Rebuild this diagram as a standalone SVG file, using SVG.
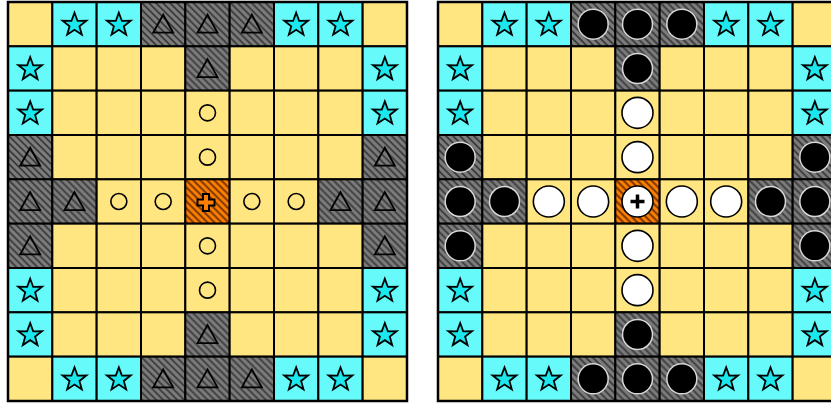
<svg xmlns="http://www.w3.org/2000/svg" xmlns:xlink="http://www.w3.org/1999/xlink" width="831" height="405" viewBox="0 0 831 405">
<style>
.y{fill:#ffe680;stroke:#000;stroke-width:2}
.c{fill:#66fafa;stroke:#000;stroke-width:2}
.g{fill:url(#hg);stroke:#000;stroke-width:2}
.o{fill:url(#ho);stroke:#000;stroke-width:2}
.star{fill:#1ae8ee;stroke:#000;stroke-width:1.8;stroke-linejoin:miter}
.tri{fill:none;stroke:#000;stroke-width:1.8}
.sc{fill:none;stroke:#000;stroke-width:1.6}
.crs{fill:#ff8000;stroke:#000;stroke-width:2}
.bc{fill:#000;stroke:#d8d8d8;stroke-width:1.5}
.wc{fill:#fff;stroke:#000;stroke-width:1.6}
.plus{stroke:#000;stroke-width:3.5;fill:none}
</style>
<defs>
<pattern id="hg" patternUnits="userSpaceOnUse" width="7" height="7">
<rect width="7" height="7" fill="#7c7c7c"/>
<path d="M0,0L7,7M-1,6L1,8M6,-1L8,1" stroke="#3a3a3a" stroke-width="1.8"/>
</pattern>
<pattern id="ho" patternUnits="userSpaceOnUse" width="7" height="7">
<rect width="7" height="7" fill="#ff8000"/>
<path d="M0,0L7,7M-1,6L1,8M6,-1L8,1" stroke="#6a2e00" stroke-width="1.8"/>
</pattern>
<rect id="cy" class="y" width="44.33" height="44.33"/>
<rect id="cc" class="c" width="44.33" height="44.33"/>
<rect id="cg" class="g" width="44.33" height="44.33"/>
<rect id="co" class="o" width="44.33" height="44.33"/>
<path id="st" class="star" d="M22.17,10.2L25.23,18.46L34.06,18.31L27.12,23.78L29.52,32.22L22.17,27.37L14.82,32.22L17.22,23.78L10.28,18.31L19.11,18.46Z" transform="translate(0,0.5)"/>
<path id="tr" class="tri" d="M22.17,12.7L12.17,30.7L32.17,30.7Z"/>
<circle id="smc" class="sc" cx="22.17" cy="22.17" r="8"/>
<circle id="blk" class="bc" cx="22.17" cy="22.17" r="15"/>
<circle id="wht" class="wc" cx="22.17" cy="22.17" r="15.5"/>
</defs>

<g id="board-left" transform="translate(8,2)">
<g id="left-row0">
<use href="#cy" x="0" y="0"/>
<use href="#cc" x="44.33" y="0"/><use href="#st" x="44.33" y="0"/>
<use href="#cc" x="88.67" y="0"/><use href="#st" x="88.67" y="0"/>
<use href="#cg" x="133" y="0"/><use href="#tr" x="133" y="0"/>
<use href="#cg" x="177.33" y="0"/><use href="#tr" x="177.33" y="0"/>
<use href="#cg" x="221.67" y="0"/><use href="#tr" x="221.67" y="0"/>
<use href="#cc" x="266" y="0"/><use href="#st" x="266" y="0"/>
<use href="#cc" x="310.33" y="0"/><use href="#st" x="310.33" y="0"/>
<use href="#cy" x="354.67" y="0"/>
</g>
<g id="left-row1">
<use href="#cc" x="0" y="44.33"/><use href="#st" x="0" y="44.33"/>
<use href="#cy" x="44.33" y="44.33"/><use href="#cy" x="88.67" y="44.33"/><use href="#cy" x="133" y="44.33"/>
<use href="#cg" x="177.33" y="44.33"/><use href="#tr" x="177.33" y="44.33"/>
<use href="#cy" x="221.67" y="44.33"/><use href="#cy" x="266" y="44.33"/><use href="#cy" x="310.33" y="44.33"/>
<use href="#cc" x="354.67" y="44.33"/><use href="#st" x="354.67" y="44.33"/>
</g>
<g id="left-row2">
<use href="#cc" x="0" y="88.67"/><use href="#st" x="0" y="88.67"/>
<use href="#cy" x="44.33" y="88.67"/><use href="#cy" x="88.67" y="88.67"/><use href="#cy" x="133" y="88.67"/>
<use href="#cy" x="177.33" y="88.67"/><use href="#smc" x="177.33" y="88.67"/>
<use href="#cy" x="221.67" y="88.67"/><use href="#cy" x="266" y="88.67"/><use href="#cy" x="310.33" y="88.67"/>
<use href="#cc" x="354.67" y="88.67"/><use href="#st" x="354.67" y="88.67"/>
</g>
<g id="left-row3">
<use href="#cg" x="0" y="133"/><use href="#tr" x="0" y="133"/>
<use href="#cy" x="44.33" y="133"/><use href="#cy" x="88.67" y="133"/><use href="#cy" x="133" y="133"/>
<use href="#cy" x="177.33" y="133"/><use href="#smc" x="177.33" y="133"/>
<use href="#cy" x="221.67" y="133"/><use href="#cy" x="266" y="133"/><use href="#cy" x="310.33" y="133"/>
<use href="#cg" x="354.67" y="133"/><use href="#tr" x="354.67" y="133"/>
</g>
<g id="left-row4">
<use href="#cg" x="0" y="177.33"/><use href="#tr" x="0" y="177.33"/>
<use href="#cg" x="44.33" y="177.33"/><use href="#tr" x="44.33" y="177.33"/>
<use href="#cy" x="88.67" y="177.33"/><use href="#smc" x="88.67" y="177.33"/>
<use href="#cy" x="133" y="177.33"/><use href="#smc" x="133" y="177.33"/>
<use href="#co" x="177.33" y="177.33"/>
<path class="crs" d="M-3,-8.5H3V-3H8.5V3H3V8.5H-3V3H-8.5V-3H-3Z" transform="translate(198,200.5)"/>
<use href="#cy" x="221.67" y="177.33"/><use href="#smc" x="221.67" y="177.33"/>
<use href="#cy" x="266" y="177.33"/><use href="#smc" x="266" y="177.33"/>
<use href="#cg" x="310.33" y="177.33"/><use href="#tr" x="310.33" y="177.33"/>
<use href="#cg" x="354.67" y="177.33"/><use href="#tr" x="354.67" y="177.33"/>
</g>
<g id="left-row5">
<use href="#cg" x="0" y="221.67"/><use href="#tr" x="0" y="221.67"/>
<use href="#cy" x="44.33" y="221.67"/><use href="#cy" x="88.67" y="221.67"/><use href="#cy" x="133" y="221.67"/>
<use href="#cy" x="177.33" y="221.67"/><use href="#smc" x="177.33" y="221.67"/>
<use href="#cy" x="221.67" y="221.67"/><use href="#cy" x="266" y="221.67"/><use href="#cy" x="310.33" y="221.67"/>
<use href="#cg" x="354.67" y="221.67"/><use href="#tr" x="354.67" y="221.67"/>
</g>
<g id="left-row6">
<use href="#cc" x="0" y="266"/><use href="#st" x="0" y="266"/>
<use href="#cy" x="44.33" y="266"/><use href="#cy" x="88.67" y="266"/><use href="#cy" x="133" y="266"/>
<use href="#cy" x="177.33" y="266"/><use href="#smc" x="177.33" y="266"/>
<use href="#cy" x="221.67" y="266"/><use href="#cy" x="266" y="266"/><use href="#cy" x="310.33" y="266"/>
<use href="#cc" x="354.67" y="266"/><use href="#st" x="354.67" y="266"/>
</g>
<g id="left-row7">
<use href="#cc" x="0" y="310.33"/><use href="#st" x="0" y="310.33"/>
<use href="#cy" x="44.33" y="310.33"/><use href="#cy" x="88.67" y="310.33"/><use href="#cy" x="133" y="310.33"/>
<use href="#cg" x="177.33" y="310.33"/><use href="#tr" x="177.33" y="310.33"/>
<use href="#cy" x="221.67" y="310.33"/><use href="#cy" x="266" y="310.33"/><use href="#cy" x="310.33" y="310.33"/>
<use href="#cc" x="354.67" y="310.33"/><use href="#st" x="354.67" y="310.33"/>
</g>
<g id="left-row8">
<use href="#cy" x="0" y="354.67"/>
<use href="#cc" x="44.33" y="354.67"/><use href="#st" x="44.33" y="354.67"/>
<use href="#cc" x="88.67" y="354.67"/><use href="#st" x="88.67" y="354.67"/>
<use href="#cg" x="133" y="354.67"/><use href="#tr" x="133" y="354.67"/>
<use href="#cg" x="177.33" y="354.67"/><use href="#tr" x="177.33" y="354.67"/>
<use href="#cg" x="221.67" y="354.67"/><use href="#tr" x="221.67" y="354.67"/>
<use href="#cc" x="266" y="354.67"/><use href="#st" x="266" y="354.67"/>
<use href="#cc" x="310.33" y="354.67"/><use href="#st" x="310.33" y="354.67"/>
<use href="#cy" x="354.67" y="354.67"/>
</g>
<rect width="399" height="399" fill="none" stroke="#000" stroke-width="2.5"/>
</g>

<g id="board-right" transform="translate(438,2)">
<g id="right-row0">
<use href="#cy" x="0" y="0"/>
<use href="#cc" x="44.33" y="0"/><use href="#st" x="44.33" y="0"/>
<use href="#cc" x="88.67" y="0"/><use href="#st" x="88.67" y="0"/>
<use href="#cg" x="133" y="0"/><use href="#blk" x="133" y="0"/>
<use href="#cg" x="177.33" y="0"/><use href="#blk" x="177.33" y="0"/>
<use href="#cg" x="221.67" y="0"/><use href="#blk" x="221.67" y="0"/>
<use href="#cc" x="266" y="0"/><use href="#st" x="266" y="0"/>
<use href="#cc" x="310.33" y="0"/><use href="#st" x="310.33" y="0"/>
<use href="#cy" x="354.67" y="0"/>
</g>
<g id="right-row1">
<use href="#cc" x="0" y="44.33"/><use href="#st" x="0" y="44.33"/>
<use href="#cy" x="44.33" y="44.33"/><use href="#cy" x="88.67" y="44.33"/><use href="#cy" x="133" y="44.33"/>
<use href="#cg" x="177.33" y="44.33"/><use href="#blk" x="177.33" y="44.33"/>
<use href="#cy" x="221.67" y="44.33"/><use href="#cy" x="266" y="44.33"/><use href="#cy" x="310.33" y="44.33"/>
<use href="#cc" x="354.67" y="44.33"/><use href="#st" x="354.67" y="44.33"/>
</g>
<g id="right-row2">
<use href="#cc" x="0" y="88.67"/><use href="#st" x="0" y="88.67"/>
<use href="#cy" x="44.33" y="88.67"/><use href="#cy" x="88.67" y="88.67"/><use href="#cy" x="133" y="88.67"/>
<use href="#cy" x="177.33" y="88.67"/><use href="#wht" x="177.33" y="88.67"/>
<use href="#cy" x="221.67" y="88.67"/><use href="#cy" x="266" y="88.67"/><use href="#cy" x="310.33" y="88.67"/>
<use href="#cc" x="354.67" y="88.67"/><use href="#st" x="354.67" y="88.67"/>
</g>
<g id="right-row3">
<use href="#cg" x="0" y="133"/><use href="#blk" x="0" y="133"/>
<use href="#cy" x="44.33" y="133"/><use href="#cy" x="88.67" y="133"/><use href="#cy" x="133" y="133"/>
<use href="#cy" x="177.33" y="133"/><use href="#wht" x="177.33" y="133"/>
<use href="#cy" x="221.67" y="133"/><use href="#cy" x="266" y="133"/><use href="#cy" x="310.33" y="133"/>
<use href="#cg" x="354.67" y="133"/><use href="#blk" x="354.67" y="133"/>
</g>
<g id="right-row4">
<use href="#cg" x="0" y="177.33"/><use href="#blk" x="0" y="177.33"/>
<use href="#cg" x="44.33" y="177.33"/><use href="#blk" x="44.33" y="177.33"/>
<use href="#cy" x="88.67" y="177.33"/><use href="#wht" x="88.67" y="177.33"/>
<use href="#cy" x="133" y="177.33"/><use href="#wht" x="133" y="177.33"/>
<use href="#co" x="177.33" y="177.33"/><use href="#wht" x="177.33" y="177.33"/>
<path class="plus" d="M199.5,192.5V206.5M192.5,199.5H206.5"/>
<use href="#cy" x="221.67" y="177.33"/><use href="#wht" x="221.67" y="177.33"/>
<use href="#cy" x="266" y="177.33"/><use href="#wht" x="266" y="177.33"/>
<use href="#cg" x="310.33" y="177.33"/><use href="#blk" x="310.33" y="177.33"/>
<use href="#cg" x="354.67" y="177.33"/><use href="#blk" x="354.67" y="177.33"/>
</g>
<g id="right-row5">
<use href="#cg" x="0" y="221.67"/><use href="#blk" x="0" y="221.67"/>
<use href="#cy" x="44.33" y="221.67"/><use href="#cy" x="88.67" y="221.67"/><use href="#cy" x="133" y="221.67"/>
<use href="#cy" x="177.33" y="221.67"/><use href="#wht" x="177.33" y="221.67"/>
<use href="#cy" x="221.67" y="221.67"/><use href="#cy" x="266" y="221.67"/><use href="#cy" x="310.33" y="221.67"/>
<use href="#cg" x="354.67" y="221.67"/><use href="#blk" x="354.67" y="221.67"/>
</g>
<g id="right-row6">
<use href="#cc" x="0" y="266"/><use href="#st" x="0" y="266"/>
<use href="#cy" x="44.33" y="266"/><use href="#cy" x="88.67" y="266"/><use href="#cy" x="133" y="266"/>
<use href="#cy" x="177.33" y="266"/><use href="#wht" x="177.33" y="266"/>
<use href="#cy" x="221.67" y="266"/><use href="#cy" x="266" y="266"/><use href="#cy" x="310.33" y="266"/>
<use href="#cc" x="354.67" y="266"/><use href="#st" x="354.67" y="266"/>
</g>
<g id="right-row7">
<use href="#cc" x="0" y="310.33"/><use href="#st" x="0" y="310.33"/>
<use href="#cy" x="44.33" y="310.33"/><use href="#cy" x="88.67" y="310.33"/><use href="#cy" x="133" y="310.33"/>
<use href="#cg" x="177.33" y="310.33"/><use href="#blk" x="177.33" y="310.33"/>
<use href="#cy" x="221.67" y="310.33"/><use href="#cy" x="266" y="310.33"/><use href="#cy" x="310.33" y="310.33"/>
<use href="#cc" x="354.67" y="310.33"/><use href="#st" x="354.67" y="310.33"/>
</g>
<g id="right-row8">
<use href="#cy" x="0" y="354.67"/>
<use href="#cc" x="44.33" y="354.67"/><use href="#st" x="44.33" y="354.67"/>
<use href="#cc" x="88.67" y="354.67"/><use href="#st" x="88.67" y="354.67"/>
<use href="#cg" x="133" y="354.67"/><use href="#blk" x="133" y="354.67"/>
<use href="#cg" x="177.33" y="354.67"/><use href="#blk" x="177.33" y="354.67"/>
<use href="#cg" x="221.67" y="354.67"/><use href="#blk" x="221.67" y="354.67"/>
<use href="#cc" x="266" y="354.67"/><use href="#st" x="266" y="354.67"/>
<use href="#cc" x="310.33" y="354.67"/><use href="#st" x="310.33" y="354.67"/>
<use href="#cy" x="354.67" y="354.67"/>
</g>
<rect width="399" height="399" fill="none" stroke="#000" stroke-width="2.5"/>
</g>
</svg>
